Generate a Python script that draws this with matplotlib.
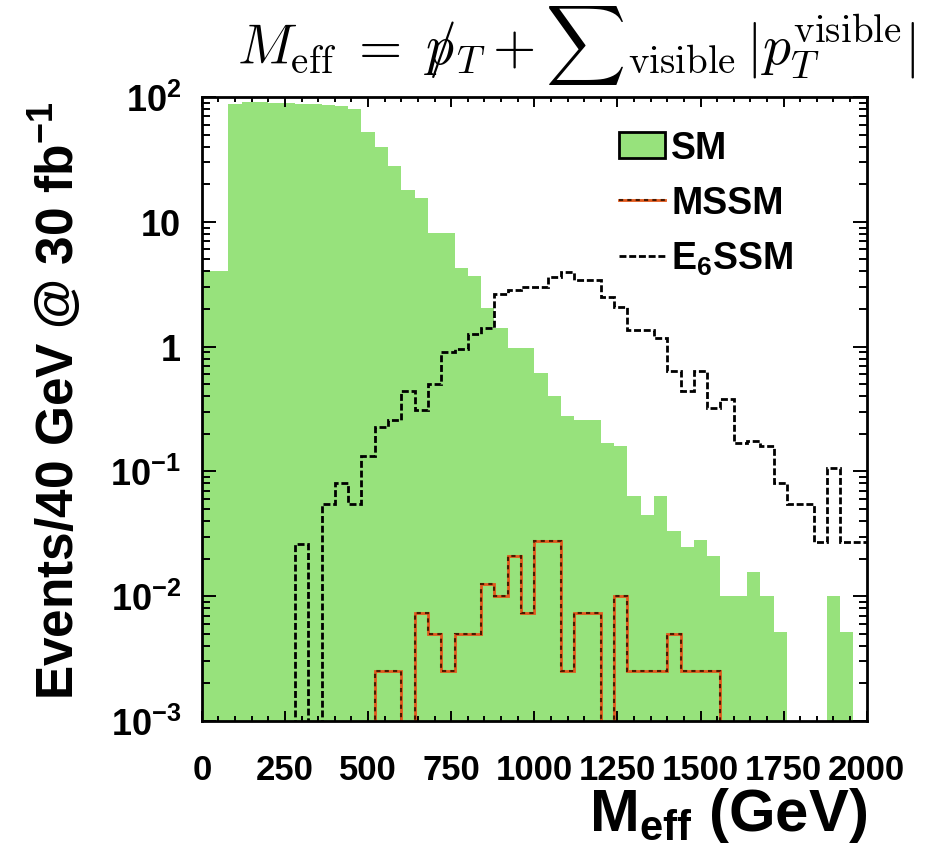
import numpy as np
import matplotlib
matplotlib.use("Agg")
import matplotlib.pyplot as plt
from matplotlib.patches import Patch
from matplotlib.lines import Line2D
from matplotlib.ticker import FixedLocator, FixedFormatter, LogLocator, MultipleLocator, NullFormatter

plt.rcParams['font.family'] = ['Liberation Sans', 'DejaVu Sans']
plt.rcParams['font.weight'] = 'bold'
plt.rcParams['axes.labelweight'] = 'bold'
plt.rcParams['mathtext.fontset'] = 'custom'
plt.rcParams['mathtext.rm'] = 'Liberation Sans:bold'
plt.rcParams['mathtext.it'] = 'Liberation Sans:bold'
plt.rcParams['mathtext.bf'] = 'Liberation Sans:bold'
plt.rcParams['mathtext.sf'] = 'Liberation Sans:bold'

#%% data: events per 40 GeV bin, 0 - 2000 GeV

bin_edges = np.arange(0, 2040, 40)

sm = [4.0, 4.0, 88, 92, 92, 90, 90, 88, 88, 86, 84, 80,
      52, 40, 28, 18, 15.5, 8.2, 8.2, 4.3, 3.7, 2.05, 1.4, 0.98,
      0.98, 0.62, 0.40, 0.28, 0.26, 0.26, 0.17, 0.16, 0.064, 0.045, 0.064, 0.033,
      0.025, 0.028, 0.021, 0.010, 0.010, 0.0155, 0.010, 0.0052, 0, 0, 0, 0.010, 0.0052, 0]

mssm = [0, 0, 0, 0, 0, 0, 0, 0, 0, 0, 0, 0, 0,
        0.0025, 0.0025, 0, 0.0074, 0.005, 0.0025, 0.005, 0.005, 0.0125, 0.010, 0.021,
        0.0074, 0.0275, 0.0275, 0.0025, 0.0074, 0.0074, 0, 0.010, 0.0025, 0.0025, 0.0025,
        0.005, 0.0025, 0.0025, 0.0025,
        0, 0, 0, 0, 0, 0, 0, 0, 0, 0, 0]

e6ssm = [0, 0, 0, 0, 0, 0, 0, 0.026, 0, 0.055, 0.080, 0.055,
         0.134, 0.225, 0.26, 0.44, 0.31, 0.50, 0.90, 0.95, 1.26, 1.42, 2.63, 2.83,
         3.0, 3.0, 3.6, 3.95, 3.4, 3.4, 2.5, 2.07, 1.37, 1.37, 1.18, 0.64,
         0.44, 0.64, 0.32, 0.38, 0.17, 0.175, 0.16, 0.08, 0.055, 0.055, 0.027, 0.107, 0.027, 0.027]

xticks = [0, 250, 500, 750, 1000, 1250, 1500, 1750, 2000]
yticks = [1e-3, 1e-2, 1e-1, 1, 10, 100]
ytick_labels = [r'$10^{-3}$', r'$10^{-2}$', r'$10^{-1}$', '1', '10', r'$10^{2}$']

green = '#97e27c'
mssm_red = '#e2581c'
mssm_dark = '#4a1a00'

#%% plot

fig = plt.figure(figsize=(9.26, 8.53), dpi=100)
ax = fig.add_axes([0.218, 0.1536, 0.718, 0.7315])

ax.stairs(sm, bin_edges, fill=True, color=green, lw=0, zorder=1)
# MSSM: red line with dark dashes on top
ax.stairs(mssm, bin_edges, baseline=None, color=mssm_red, lw=2, zorder=2)
ax.stairs(mssm, bin_edges, baseline=None, color=mssm_dark, lw=1.5,
          ls=(0, (2, 2)), zorder=3)
ax.stairs(e6ssm, bin_edges, baseline=None, color='black', lw=2,
          ls=(0, (2.5, 1)), zorder=4)

ax.set_yscale('log')
ax.set_xlim(0, 2000)
ax.set_ylim(1e-3, 1e2)

# ticks, root style
ax.xaxis.set_major_locator(FixedLocator(xticks))
ax.xaxis.set_minor_locator(MultipleLocator(50))
ax.yaxis.set_major_locator(FixedLocator(yticks))
ax.yaxis.set_major_formatter(FixedFormatter(ytick_labels))
ax.yaxis.set_minor_locator(LogLocator(base=10, subs=np.arange(2, 10)))
ax.yaxis.set_minor_formatter(NullFormatter())
ax.tick_params(which='both', direction='in', top=True, right=True, width=1.4)
ax.tick_params(axis='x', which='major', length=7, labelsize=25, pad=23)
ax.tick_params(axis='x', which='minor', length=3.5)
ax.tick_params(axis='y', which='major', length=10, labelsize=26, pad=15)
ax.tick_params(axis='y', which='minor', length=6)
for sp in ax.spines.values():
    sp.set_linewidth(2)
    sp.set_zorder(6)

ax.set_ylabel('Events/40 GeV @ 30 fb$^{-1}$', fontsize=37, fontweight='bold')
ax.yaxis.set_label_coords(-0.176, 0.515)
ax.set_xlabel(r'M$_{\rm eff}$ (GeV)', fontsize=43, fontweight='bold', ha='right')
ax.xaxis.set_label_coords(1.0, -0.102)

fig.text(0.622, 0.947,
         r'$M_{\rm eff}\;=\;{p\!\!\!/}_T + {\sum}_{\rm visible}\, |p_T^{\rm visible}|$',
         math_fontfamily='cm', fontsize=40, ha='center', va='center')

# legend
h_sm = Patch(facecolor=green, edgecolor='black', lw=2)
h_mssm = (Line2D([], [], color=mssm_red, lw=2),
          Line2D([], [], color=mssm_dark, lw=1.5, ls=(0, (2, 2))))
h_e6 = Line2D([], [], color='black', lw=2, ls=(0, (2.5, 1)))
ax.legend([h_sm, h_mssm, h_e6], ['SM', 'MSSM', r'E$_6$SSM'],
          loc='upper left', bbox_to_anchor=(0.668, 0.846), bbox_transform=fig.transFigure,
          frameon=False, fontsize=27, handlelength=1.25, handletextpad=0.15,
          labelspacing=0.5, borderpad=0, borderaxespad=0)

fig.savefig('out.png', dpi=100)
